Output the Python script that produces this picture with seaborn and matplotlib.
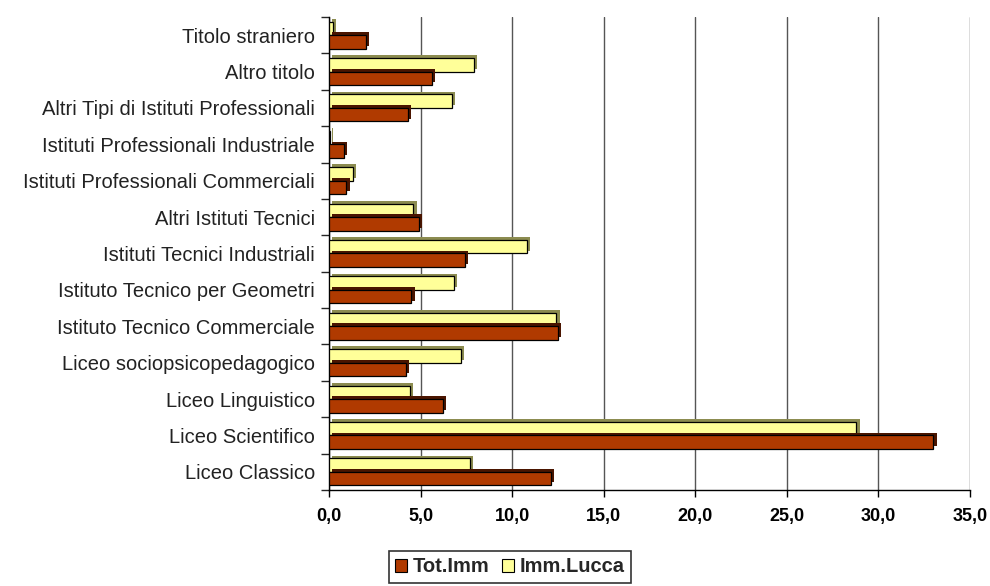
import matplotlib
matplotlib.use("Agg")
import matplotlib.pyplot as plt
import matplotlib.patheffects as pe
from matplotlib.patches import Patch
from matplotlib.ticker import FuncFormatter, MultipleLocator
import seaborn as sns
import pandas as pd

categories = [
    "Titolo straniero",
    "Altro titolo",
    "Altri Tipi di Istituti Professionali",
    "Istituti Professionali Industriale",
    "Istituti Professionali Commerciali",
    "Altri Istituti Tecnici",
    "Istituti Tecnici Industriali",
    "Istituto Tecnico per Geometri",
    "Istituto Tecnico Commerciale",
    "Liceo sociopsicopedagogico",
    "Liceo Linguistico",
    "Liceo Scientifico",
    "Liceo Classico",
]
tot_imm = [2.0, 5.6, 4.3, 0.8, 0.95, 4.9, 7.4, 4.5, 12.5, 4.2, 6.2, 33.0, 12.1]
imm_lucca = [0.2, 7.9, 6.7, 0.05, 1.3, 4.6, 10.8, 6.8, 12.4, 7.2, 4.4, 28.8, 7.7]
series = ["Tot.Imm", "Imm.Lucca"]
colors = {"Tot.Imm": "#B03A00", "Imm.Lucca": "#FFFF99"}
shadow = {"Tot.Imm": "#4A1500", "Imm.Lucca": "#8C8C50"}

df = pd.DataFrame({
    "categoria": categories * 2,
    "valore": imm_lucca + tot_imm,
    "serie": ["Imm.Lucca"] * len(categories) + ["Tot.Imm"] * len(categories),
})

sns.set_style("white")
plt.rcParams["font.family"] = ["Liberation Sans", "DejaVu Sans"]

fig = plt.figure(figsize=(9.9, 5.86), dpi=100)
ax = fig.add_axes([329 / 990, 1 - 490 / 586, (970 - 329) / 990, (490 - 17) / 586])

sns.barplot(data=df, x="valore", y="categoria", hue="serie",
            hue_order=["Imm.Lucca", "Tot.Imm"], order=categories,
            palette=colors, saturation=1, orient="h", width=0.74, gap=0.0,
            edgecolor="black", linewidth=0.9, legend=False, ax=ax, zorder=3)

for cont, name in zip(ax.containers, ["Imm.Lucca", "Tot.Imm"]):
    for bar in cont:
        bar.set_path_effects([
            pe.SimplePatchShadow(offset=(2.5, 2.0), shadow_rgbFace=shadow[name], alpha=1.0),
            pe.Normal(),
        ])

ax.set_xlim(0, 35)
ax.xaxis.set_major_locator(MultipleLocator(5))
ax.xaxis.set_major_formatter(FuncFormatter(lambda v, p: f"{v:.1f}".replace(".", ",")))
ax.grid(axis="x", color="#555555", linewidth=1.0, zorder=0)
ax.grid(axis="y", visible=False)
ax.set_xlabel("")
ax.set_ylabel("")
for s in ["top", "right"]:
    ax.spines[s].set_visible(False)
for s in ["left", "bottom"]:
    ax.spines[s].set_color("black")
    ax.spines[s].set_linewidth(1.0)

ax.tick_params(axis="x", direction="out", length=5, width=1, colors="black",
               labelsize=13, pad=8, bottom=True)
for lab in ax.get_xticklabels():
    lab.set_fontweight("bold")
ax.tick_params(axis="y", labelsize=14.5, length=0, pad=10, colors="#222222")
ax.set_yticks([i - 0.5 for i in range(len(categories) + 1)], minor=True)
ax.tick_params(axis="y", which="minor", direction="out", length=6, width=1, left=True)
ax.set_ylim(len(categories) - 0.5, -0.5)

handles = [Patch(facecolor=colors[s], edgecolor="black", linewidth=0.8, label=s) for s in series]
leg = fig.legend(handles=handles, loc="center", bbox_to_anchor=(510 / 990, 1 - 567 / 586),
                 ncol=2, frameon=True, fancybox=False, edgecolor="black",
                 handlelength=0.6, handleheight=0.6, handletextpad=0.3, columnspacing=0.6,
                 borderpad=0.3, prop={"weight": "bold", "size": 14.5})
leg.get_frame().set_linewidth(1.2)

fig.savefig("out.png", dpi=100, facecolor="white")
